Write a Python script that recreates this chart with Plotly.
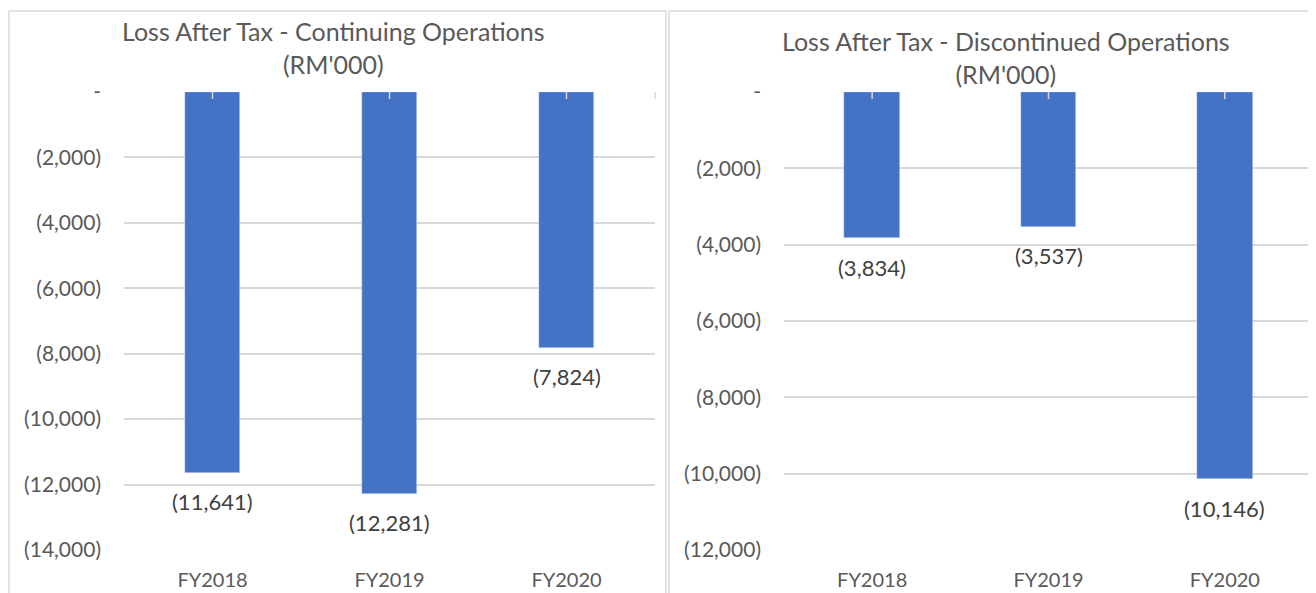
import plotly.graph_objects as go

# Page body has an 8px margin, so the figure is sized to fill the rest of the viewport.
OFF = 8
W, H = 1316 - OFF, 593 - OFF

categories = ["FY2018", "FY2019", "FY2020"]
continuing = [-11641, -12281, -7824]
discontinued = [-3834, -3537, -10146]

left_tickvals = [0, -2000, -4000, -6000, -8000, -10000, -12000, -14000]
left_ticktext = ["-", "(2,000)", "(4,000)", "(6,000)", "(8,000)", "(10,000)", "(12,000)", "(14,000)"]
right_tickvals = [0, -2000, -4000, -6000, -8000, -10000, -12000]
right_ticktext = ["-", "(2,000)", "(4,000)", "(6,000)", "(8,000)", "(10,000)", "(12,000)"]

title_left = "Loss After Tax - Continuing Operations<br>(RM'000)"
title_right = "Loss After Tax - Discontinued Operations<br>(RM'000)"

BAR = "#4472C4"
GRID = "#D9D9D9"
TXT = "#595959"
LBL = "#404040"
FONT = "Lato"


def px(x):
    return (x - OFF) / W


def py(y):
    return 1 - (y - OFF) / H


fig = go.Figure()
fig.add_trace(go.Bar(x=categories, y=continuing, marker_color=BAR, width=0.316,
                     xaxis="x", yaxis="y", showlegend=False, hoverinfo="x+y"))
fig.add_trace(go.Bar(x=categories, y=discontinued, marker_color=BAR, width=0.317,
                     xaxis="x2", yaxis="y2", showlegend=False, hoverinfo="x+y"))

annotations = []
for xa, ya, vals in (("x", "y", continuing), ("x2", "y2", discontinued)):
    for c, v in zip(categories, vals):
        annotations.append(dict(x=c, y=v, xref=xa, yref=ya, text=f"({abs(v):,})",
                                showarrow=False, yanchor="middle", yshift=-29,
                                font=dict(family=FONT, size=22, color=LBL)))

annotations.append(dict(x=px(333), y=py(48), xref="paper", yref="paper", text=title_left,
                        showarrow=False, xanchor="center", yanchor="middle",
                        font=dict(family=FONT, size=25, color=TXT)))
annotations.append(dict(x=px(1006), y=py(57), xref="paper", yref="paper", text=title_right,
                        showarrow=False, xanchor="center", yanchor="middle",
                        font=dict(family=FONT, size=25, color=TXT)))

shapes = [
    dict(type="rect", xref="paper", yref="paper", x0=px(9), x1=px(666), y0=-0.1, y1=py(11),
         line=dict(color=GRID, width=1.5), layer="below"),
    dict(type="rect", xref="paper", yref="paper", x0=px(669), x1=1.1, y0=-0.1, y1=py(11),
         line=dict(color=GRID, width=1.5), layer="below"),
]
for xa, ya in (("x", "y"), ("x2", "y2")):
    for c in categories:
        shapes.append(dict(type="line", xref=xa, yref=ya, x0=c, x1=c, y0=0, y1=-7,
                           ysizemode="pixel", yanchor=0,
                           line=dict(color=GRID, width=1.5), layer="above"))
    shapes.append(dict(type="line", xref=f"{xa} domain", yref=ya, x0=1, x1=1, y0=0, y1=-7,
                       ysizemode="pixel", yanchor=0,
                       line=dict(color=GRID, width=1.5), layer="above"))

ydom = [py(550), py(92)]
yfont = dict(family=FONT, size=21, color=TXT)
xfont = dict(family=FONT, size=20, color=TXT)

fig.update_layout(
    width=W, height=H,
    margin=dict(l=0, r=0, t=0, b=0, autoexpand=False),
    paper_bgcolor="white", plot_bgcolor="white",
    bargap=0,
    xaxis=dict(domain=[px(124), px(655)], type="category", showgrid=False, zeroline=False,
               showline=False, ticks="", tickfont=xfont, anchor="y", ticklabelstandoff=16,
               automargin=False),
    yaxis=dict(domain=ydom, range=[-14000, 0], tickvals=left_tickvals, ticktext=left_ticktext,
               showgrid=True, gridcolor=GRID, gridwidth=1.5, zeroline=False, showline=False,
               ticks="", tickfont=yfont, anchor="x", ticklabelstandoff=22, automargin=False),
    xaxis2=dict(domain=[px(784), min(1.0, px(1313))], type="category", showgrid=False,
                zeroline=False, showline=False, ticks="", tickfont=xfont, anchor="y2",
                ticklabelstandoff=16, automargin=False),
    yaxis2=dict(domain=ydom, range=[-12000, 0], tickvals=right_tickvals, ticktext=right_ticktext,
                showgrid=True, gridcolor=GRID, gridwidth=1.5, zeroline=False, showline=False,
                ticks="", tickfont=yfont, anchor="x2", ticklabelstandoff=22, automargin=False),
    annotations=annotations,
    shapes=shapes,
)

fig.write_html("out.html")
